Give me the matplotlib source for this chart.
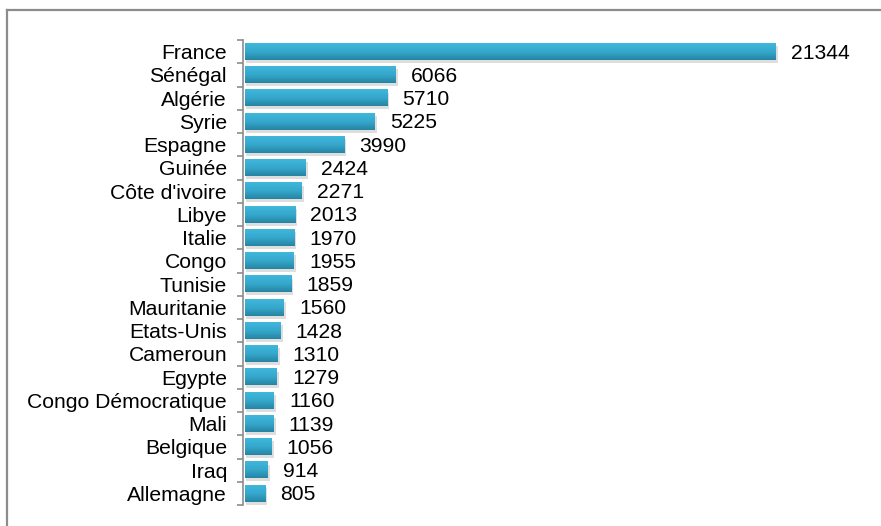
import matplotlib
matplotlib.use("Agg")
import matplotlib.pyplot as plt
import numpy as np
from matplotlib.colors import LinearSegmentedColormap
from matplotlib.patches import Rectangle

countries = ["France", "Sénégal", "Algérie", "Syrie", "Espagne", "Guinée",
             "Côte d'ivoire", "Libye", "Italie", "Congo", "Tunisie", "Mauritanie",
             "Etats-Unis", "Cameroun", "Egypte", "Congo Démocratique", "Mali",
             "Belgique", "Iraq", "Allemagne"]
values = [21344, 6066, 5710, 5225, 3990, 2424, 2271, 2013, 1970, 1955, 1859,
          1560, 1428, 1310, 1279, 1160, 1139, 1056, 914, 805]

plt.rcParams['font.family'] = ['Liberation Sans', 'DejaVu Sans']
FS = 15.2

W, H = 881, 526
fig = plt.figure(figsize=(W / 100, H / 100), dpi=100)
fig.patch.set_facecolor("white")

# outer border (top and left visible)
fig.add_artist(plt.Line2D([7 / W, 7 / W], [0, 1 - 10 / H], transform=fig.transFigure,
                          color="#8c8c8c", lw=1.6))
fig.add_artist(plt.Line2D([7 / W, 1], [1 - 10 / H, 1 - 10 / H], transform=fig.transFigure,
                          color="#8c8c8c", lw=1.6))

ax_left, ax_right = 243, 840
ax_top, ax_bottom = 40, 505
ax = fig.add_axes([ax_left / W, 1 - ax_bottom / H, (ax_right - ax_left) / W,
                   (ax_bottom - ax_top) / H])
ax.set_facecolor("none")

n = len(countries)
y = np.arange(n)
xmax = 21344 * (ax_right - ax_left) / (776 - 245)

h = 0.72
cmap = LinearSegmentedColormap.from_list("bar", ["#40b8db", "#35a8cc", "#2784a3"])
grad = np.linspace(0, 1, 64).reshape(-1, 1)
for yi, v in zip(y, values):
    # soft shadow
    ax.add_patch(Rectangle((60, yi - h / 2 + 0.12), v + 30, h,
                           facecolor="#c4c4c4", edgecolor="none", alpha=0.55, zorder=1))
    ax.imshow(grad, cmap=cmap, aspect="auto", extent=(0, v, yi + h / 2, yi - h / 2),
              origin="upper", zorder=2, interpolation="bilinear")
    ax.annotate(str(v), xy=(v, yi), xytext=(11, -1), textcoords="offset points",
                va="center", ha="left", fontsize=FS, color="black")

ax.set_xlim(-80, xmax - 80)
ax.set_ylim(n - 0.5, -0.5)

ax.set_yticks(y)
ax.set_yticklabels(countries, fontsize=FS)
ax.set_yticks(np.arange(n + 1) - 0.5, minor=True)
ax.tick_params(axis="y", which="major", length=0, pad=11.5)
ax.tick_params(axis="y", which="minor", length=4, width=1.2, color="#8c8c8c")
ax.set_xticks([])
for s in ["top", "right", "bottom"]:
    ax.spines[s].set_visible(False)
ax.spines["left"].set_color("#8c8c8c")
ax.spines["left"].set_linewidth(1.2)

fig.savefig("out.png", dpi=100, facecolor="white")
